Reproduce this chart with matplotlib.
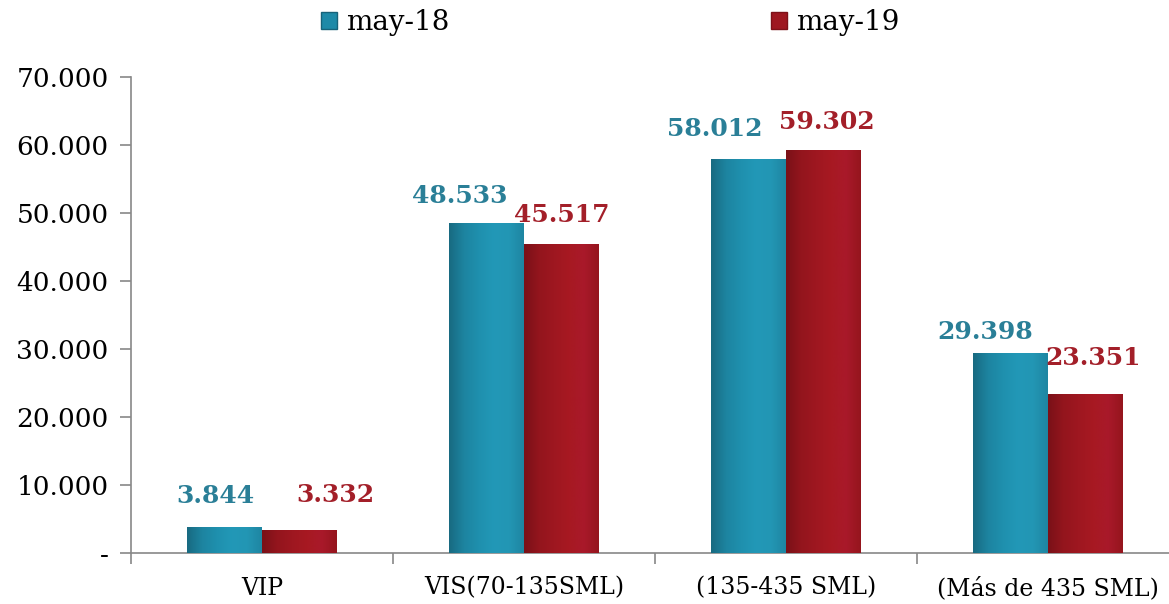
import numpy as np
import matplotlib.pyplot as plt
from matplotlib.colors import LinearSegmentedColormap
from matplotlib.patches import Patch
from matplotlib.ticker import FuncFormatter

categories = ['VIP', 'VIS(70-135SML)', '(135-435 SML)', '(Más de 435 SML)']
may18 = [3844, 48533, 58012, 29398]
may19 = [3332, 45517, 59302, 23351]
series_labels = ['may-18', 'may-19']

teal = '#1e8aa8'
red = '#9e1720'
teal_txt = '#2a7f97'
red_txt = '#a31f29'

teal_cmap = LinearSegmentedColormap.from_list('t', ['#186a81', '#1d84a0', '#1f90ae', '#2298b7', '#2396b4', '#1e86a2'])
red_cmap = LinearSegmentedColormap.from_list('r', ['#7a1118', '#93151d', '#9e1720', '#a71922', '#a9192a', '#95151d'])

# label offsets (pixels) relative to bar top centre
off18 = [(-9, 19), (-27, 15), (-34, 18), (-25, 9)]
off19 = [(36, 23), (0, 17), (3, 16), (8, 24)]

plt.rcParams['font.family'] = 'DejaVu Serif'

fig = plt.figure(figsize=(11.69, 6.04), dpi=100)
# axis runs past the right edge of the picture, as in the original
ax = fig.add_axes([0.112, 0.0844, 0.8965, 0.788])

x = np.arange(len(categories))
w = 0.286
b18 = ax.bar(x - w / 2, may18, w, color=teal, zorder=2)
b19 = ax.bar(x + w / 2, may19, w, color=red, zorder=2)

grad = np.linspace(0, 1, 256).reshape(1, -1)
for bars, cmap in [(b18, teal_cmap), (b19, red_cmap)]:
    for p in bars:
        x0, y0 = p.get_x(), p.get_y()
        im = ax.imshow(grad, cmap=cmap, aspect='auto', zorder=3,
                       extent=(x0, x0 + p.get_width(), y0, y0 + p.get_height()))
        im.set_clip_path(p)

for bars, vals, offs, c in [(b18, may18, off18, teal_txt), (b19, may19, off19, red_txt)]:
    for p, v, (dx, dy) in zip(bars, vals, offs):
        ax.annotate(f'{v:,}'.replace(',', '.'), (p.get_x() + p.get_width() / 2, v),
                    xytext=(dx * 0.72, dy * 0.72), textcoords='offset points',
                    ha='center', va='bottom', fontsize=18, fontweight='bold', color=c, zorder=4)

ax.set_xlim(-0.5, 3.5)
ax.set_ylim(0, 70000)
ax.set_yticks(np.arange(0, 70001, 10000))
ax.yaxis.set_major_formatter(FuncFormatter(lambda v, _: '-' if v == 0 else f'{v:,.0f}'.replace(',', '.')))
ax.set_xticks(np.arange(-0.5, 3.6, 1))
ax.set_xticklabels([])
ax.set_xticks(x, minor=True)
ax.set_xticklabels(categories, minor=True)
ax.tick_params(axis='x', which='major', length=8, color='#888888', width=1.2)
ax.tick_params(axis='x', which='minor', length=0, labelsize=17, pad=17)
ax.tick_params(axis='y', length=8, color='#888888', width=1.2, labelsize=19, pad=8)
for s in ['top', 'right']:
    ax.spines[s].set_visible(False)
for s in ['left', 'bottom']:
    ax.spines[s].set_color('#888888')
    ax.spines[s].set_linewidth(1.2)
ax.set_xlim(-0.5, 3.5)

handles = [Patch(facecolor=teal, edgecolor='#17637a'), Patch(facecolor=red, edgecolor='#7d1118')]
fig.legend(handles, series_labels, loc='center', bbox_to_anchor=(0.522, 0.962), ncol=2,
           frameon=False, fontsize=20, handlelength=0.55, handleheight=0.55,
           handletextpad=0.33, columnspacing=11.6)

fig.savefig('out.png', dpi=100)
